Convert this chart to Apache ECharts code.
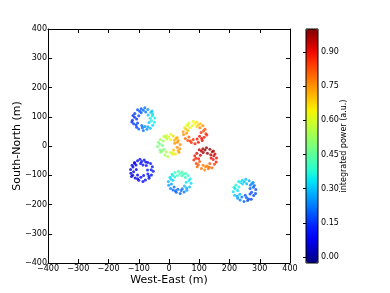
<!DOCTYPE html>
<html>
<head>
<meta charset="utf-8">
<script src="https://cdn.jsdelivr.net/npm/echarts@6/dist/echarts.min.js"></script>
<style>html,body{margin:0;padding:0;background:#fff}#c{width:390px;height:293px}</style>
</head>
<body>
<div id="c"></div>
<script>
// [west-east (m), south-north (m), integrated power]
const ringA = [[-47,96,.36],[-54,109,.33],[-56,120,.29],[-70,125,.25],[-80,131,.21],[-92,127,.19],[-104,124,.18],[-113,111,.16],[-119,104,.15],[-121,88,.15],[-117,76,.16],[-107,64,.17],[-100,58,.19],[-85,53,.22],[-73,57,.25],[-62,61,.29],[-54,71,.32],[-48,81,.35],[-62,95,.35],[-69,106,.3],[-77,116,.22],[-92,114,.19],[-100,103,.17],[-107,92,.15],[-104,79,.16],[-90,70,.2],[-80,67,.24],[-66,80,.3],[-58,86,.36],[-55,103,.34],[-97,119,.18],[-114,98,.15],[-70,66,.27],[-85,122,.2],[-60,115,.3],[-109,72,.16],[-88,62,.21],[-123,82,.15]];
const ringB = [[-127,-80,.06],[-122,-66,.06],[-114,-56,.07],[-104,-50,.08],[-96,-45,.09],[-82,-48,.1],[-70,-56,.11],[-61,-60,.12],[-55,-71,.12],[-52,-86,.12],[-58,-99,.11],[-66,-110,.1],[-78,-116,.09],[-86,-121,.08],[-100,-117,.07],[-112,-109,.06],[-120,-100,.05],[-126,-93,.05],[-108,-80,.07],[-109,-65,.07],[-94,-60,.09],[-86,-65,.1],[-75,-67,.11],[-71,-82,.12],[-70,-96,.11],[-84,-101,.09],[-93,-107,.08],[-104,-99,.06],[-117,-88,.06],[-119,-72,.06],[-77,-55,.1],[-59,-81,.12],[-104,-112,.07],[-90,-53,.09],[-114,-59,.07],[-66,-103,.11],[-124,-104,.05]];
const ringC = [[37,5,.76],[30,19,.74],[27,29,.72],[14,34,.67],[6,40,.62],[-9,36,.59],[-17,33,.56],[-29,22,.53],[-35,13,.49],[-38,-2,.48],[-30,-14,.48],[-27,-21,.5],[-13,-31,.53],[-4,-36,.56],[11,-28,.6],[21,-27,.66],[30,-15,.71],[36,-9,.75],[19,9,.75],[18,20,.71],[5,21,.64],[-7,24,.58],[-19,17,.53],[-22,2,.48],[-17,-11,.49],[-9,-20,.55],[4,-22,.59],[15,-14,.7],[27,-4,.76],[28,13,.76],[-11,29,.57],[-31,7,.48],[13,-23,.62],[-1,31,.6],[23,26,.72],[-24,-17,.5],[33,-21,.74]];
const ringD = [[47,49,.73],[52,63,.66],[60,73,.6],[66,79,.61],[80,85,.63],[92,81,.66],[104,76,.7],[112,69,.76],[119,57,.82],[122,42,.86],[116,30,.88],[110,19,.9],[97,13,.89],[86,8,.88],[74,12,.86],[62,19,.83],[54,26,.8],[48,39,.76],[63,53,.7],[69,63,.62],[77,69,.63],[92,67,.67],[102,62,.77],[106,46,.85],[101,33,.89],[93,24,.89],[80,22,.86],[66,31,.81],[58,44,.75],[56,57,.69],[97,73,.68],[114,51,.84],[70,17,.85],[85,76,.64],[61,70,.6],[108,26,.9],[125,38,.87]];
const ringE = [[157,-41,.9],[152,-27,.93],[147,-17,.96],[135,-11,.97],[124,-6,.98],[112,-9,.97],[100,-13,.95],[92,-25,.92],[85,-33,.89],[82,-48,.87],[90,-60,.84],[93,-71,.8],[107,-77,.78],[118,-82,.76],[130,-78,.78],[142,-74,.8],[150,-62,.84],[156,-55,.88],[139,-41,.91],[138,-30,.96],[127,-25,.98],[113,-22,.97],[104,-32,.93],[98,-44,.88],[101,-53,.83],[113,-66,.78],[126,-68,.77],[135,-60,.82],[146,-46,.89],[148,-33,.92],[107,-17,.96],[89,-42,.88],[133,-73,.79],[119,-14,.98],[143,-20,.96],[97,-64,.81],[121,-71,.77]];
const ringF = [[-2,-121,.29],[3,-107,.33],[10,-97,.36],[20,-91,.39],[31,-86,.42],[43,-89,.42],[55,-93,.41],[63,-101,.39],[70,-112,.36],[73,-127,.33],[68,-140,.3],[59,-151,.26],[50,-157,.22],[37,-162,.2],[24,-158,.2],[13,-150,.21],[5,-145,.23],[-1,-134,.26],[13,-117,.31],[19,-106,.36],[28,-101,.41],[42,-102,.42],[54,-108,.39],[57,-124,.34],[51,-137,.29],[44,-146,.22],[29,-148,.2],[17,-140,.22],[8,-130,.27],[6,-113,.32],[48,-97,.41],[66,-118,.35],[21,-153,.2],[36,-94,.42],[12,-100,.36],[58,-144,.27],[40,-152,.21]];
const ringG = [[287,-149,.18],[282,-135,.21],[278,-125,.24],[265,-119,.27],[254,-114,.3],[242,-117,.32],[230,-121,.35],[221,-133,.36],[215,-141,.35],[212,-156,.33],[217,-168,.3],[227,-179,.26],[235,-185,.23],[248,-190,.2],[260,-186,.18],[272,-182,.17],[280,-169,.17],[286,-162,.17],[268,-145,.19],[269,-134,.24],[257,-129,.29],[243,-130,.32],[231,-140,.36],[227,-152,.33],[234,-165,.29],[241,-174,.22],[256,-176,.19],[268,-164,.17],[273,-158,.18],[279,-141,.2],[237,-125,.33],[219,-146,.34],[263,-181,.18],[249,-122,.3],[274,-128,.24],[226,-172,.27],[252,-168,.19]];
const rings = [ringA, ringB, ringC, ringD, ringE, ringF, ringG];

const colorbarTicks = [0, 0.15, 0.30, 0.45, 0.60, 0.75, 0.90];
const powerMin = -0.026, powerMax = 1.0;
// jet colormap samples (0 .. 1 in steps of 0.05)
const jet = ['#000080','#0000b9','#0000f3','#001aff','#004dff','#0080ff','#00b3ff','#00e5f7','#29ffce','#52ffa4','#7bff7b','#a4ff52','#ceff29','#f7f500','#ffc600','#ff9700','#ff6800','#ff3900','#f30900','#b90000','#800000'];

const FONT = 'DejaVu Sans';
const minus = v => String(v).replace('-', '\u2212');

const chart = echarts.init(document.getElementById('c'), null, {renderer: 'canvas'});
const tickStyle = {show: true, inside: true, length: 4, lineStyle: {color: '#000', width: 1}};
const mainX = (pos, show) => ({
  type: 'value', gridIndex: 0, position: pos, min: -400, max: 400, interval: 100,
  axisLine: {show: true, onZero: false, lineStyle: {color: '#000', width: 1}},
  axisTick: tickStyle, splitLine: {show: false},
  axisLabel: {show: show, color: '#000', fontFamily: FONT, fontSize: 8, margin: 2, formatter: minus},
  name: show ? 'West-East (m)' : '', nameLocation: 'middle', nameGap: 12, nameMoveOverlap: false,
  nameTextStyle: {color: '#000', fontFamily: FONT, fontSize: 11}
});
const mainY = (pos, show) => ({
  type: 'value', gridIndex: 0, position: pos, min: -400, max: 400, interval: 100,
  axisLine: {show: true, onZero: false, lineStyle: {color: '#000', width: 1}},
  axisTick: tickStyle, splitLine: {show: false},
  axisLabel: {show: show, color: '#000', fontFamily: FONT, fontSize: 8, margin: 1, formatter: minus},
  name: show ? 'South-North (m)' : '', nameLocation: 'middle', nameGap: 25, nameMoveOverlap: false,
  nameTextStyle: {color: '#000', fontFamily: FONT, fontSize: 11}
});

chart.setOption({
  animation: false,
  backgroundColor: '#fff',
  grid: [
    {left: 48, top: 29, width: 242, height: 234, show: false, outerBoundsMode: 'none', containLabel: false},
    {left: 306, top: 29, width: 12, height: 234, show: true, borderColor: '#000', borderWidth: 1, backgroundColor: 'transparent', z: 10, outerBoundsMode: 'none', containLabel: false}
  ],
  xAxis: [mainX('bottom', true), mainX('top', false),
    {type: 'value', gridIndex: 1, show: false, min: 0, max: 1}],
  yAxis: [mainY('left', true), mainY('right', false),
    {type: 'value', gridIndex: 1, position: 'right', min: powerMin, max: powerMax, z: 11,
     axisLine: {show: false}, splitLine: {show: false},
     axisTick: {show: true, inside: true, length: 3, lineStyle: {color: '#000'}, customValues: colorbarTicks},
     axisLabel: {color: '#000', fontFamily: FONT, fontSize: 8, margin: 3, customValues: colorbarTicks, formatter: v => v.toFixed(2)},
     name: 'integrated power (a.u.)', nameLocation: 'middle', nameRotate: 90, nameGap: 22, nameMoveOverlap: false,
     nameTextStyle: {color: '#000', fontFamily: FONT, fontSize: 8}}
  ],
  visualMap: {
    type: 'continuous', min: powerMin, max: powerMax, dimension: 2,
    seriesIndex: [0,1,2,3,4,5,6], calculable: false, realtime: false,
    left: 306, top: 29, itemWidth: 12, itemHeight: 234, padding: 0,
    text: null, showLabel: false, hoverLink: false,
    inRange: {color: jet}
  },
  series: rings.map(r => ({
    type: 'scatter', xAxisIndex: 0, yAxisIndex: 0, data: r,
    symbol: 'circle', symbolSize: 3, silent: true
  }))
});
</script>
</body>
</html>
